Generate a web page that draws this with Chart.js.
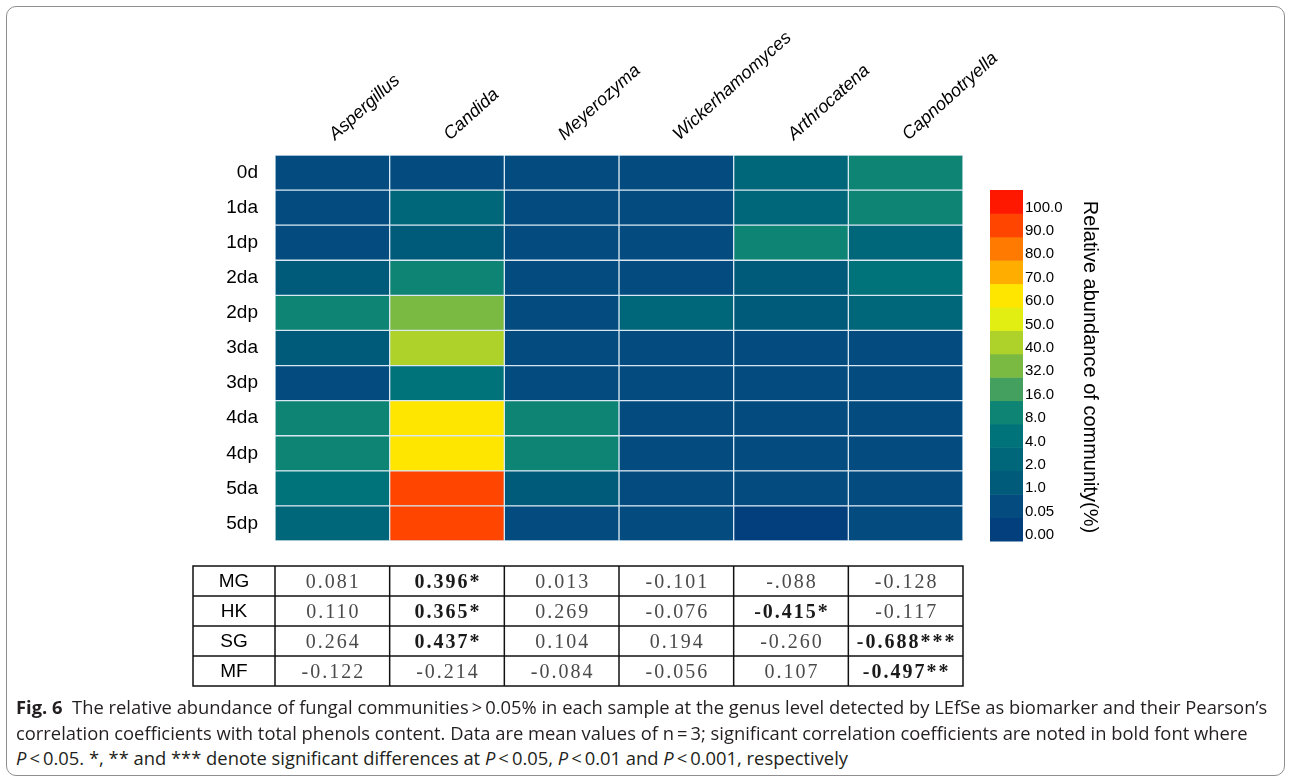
<!DOCTYPE html>
<html>
<head>
<meta charset="utf-8">
<script src="https://cdn.jsdelivr.net/npm/chart.js@4.4.1/dist/chart.umd.min.js"></script>
<style>
  html, body { margin: 0; padding: 0; background: #fff; }
  #frame { position: absolute; left: 6px; top: 6px; width: 1279px; height: 770px;
           border: 1.5px solid #8f8f8f; border-radius: 10px; box-sizing: border-box; }
  #wrap { position: absolute; left: 0; top: 0; width: 1290px; height: 700px; }
  .cap { position: absolute; left: 16px; font-family: "Open Sans", Lato, sans-serif; font-size: 16px;
         color: #231f20; white-space: nowrap; line-height: 20px; }
  .cap b { font-weight: 700; }
</style>
</head>
<body>
<div id="frame"></div>
<div id="wrap"><canvas id="c" width="1290" height="700"></canvas></div>
<div class="cap" id="cap1" style="top:697px"><b>Fig. 6</b>&nbsp; The relative abundance of fungal communities&#8201;&gt;&#8201;0.05% in each sample at the genus level detected by LEfSe as biomarker and their Pearson’s</div>
<div class="cap" style="top:723px">correlation coefficients with total phenols content. Data are mean values of n&#8201;=&#8201;3; significant correlation coefficients are noted in bold font where</div>
<div class="cap" style="top:748px"><i>P</i>&#8201;&lt;&#8201;0.05. *, ** and *** denote significant differences at <i>P</i>&#8201;&lt;&#8201;0.05, <i>P</i>&#8201;&lt;&#8201;0.01 and <i>P</i>&#8201;&lt;&#8201;0.001, respectively</div>

<script>
// Samples (rows) and genera (columns)
const samples = ['0d', '1da', '1dp', '2da', '2dp', '3da', '3dp', '4da', '4dp', '5da', '5dp'];
const genera = ['Aspergillus', 'Candida', 'Meyerozyma', 'Wickerhamomyces', 'Arthrocatena', 'Capnobotryella'];

// Relative abundance (%) of each genus, in sample order
const aspergillus     = [0.5, 0.5, 0.5, 1.5, 12, 1.5, 0.5, 12, 12, 6, 3];
const candida         = [0.5, 3, 1.5, 12, 36, 45, 6, 65, 65, 93, 93];
const meyerozyma      = [0.5, 0.5, 0.5, 0.5, 0.5, 0.5, 0.5, 12, 12, 1.5, 0.5];
const wickerhamomyces = [0.5, 0.5, 0.5, 0.5, 3, 0.5, 0.5, 0.5, 0.5, 0.5, 0.5];
const arthrocatena    = [3, 3, 12, 1.5, 1.5, 0.5, 0.5, 0.5, 0.5, 0.5, 0.03];
const capnobotryella  = [12, 12, 3, 6, 3, 0.5, 0.5, 0.5, 0.5, 0.5, 0.5];
const abundance = [aspergillus, candida, meyerozyma, wickerhamomyces, arthrocatena, capnobotryella];

// Colour scale: lower bound of each bin, its label and colour
const binBreaks = [0, 0.05, 1, 2, 4, 8, 16, 32, 40, 50, 60, 70, 80, 90, 100];
const binLabels = ['0.00', '0.05', '1.0', '2.0', '4.0', '8.0', '16.0', '32.0', '40.0', '50.0', '60.0', '70.0', '80.0', '90.0', '100.0'];
const binColors = ['#033F7D', '#044C7F', '#005A7A', '#00667A', '#00727A', '#0E8474', '#44A05E', '#7AB942',
                   '#AED22A', '#E2EE12', '#FFE600', '#FFAE00', '#FF7A00', '#FF4500', '#FF1800'];

// Pearson correlation with total phenols content (bold where marked significant)
const corrRows = ['MG', 'HK', 'SG', 'MF'];
const corrMG = ['0.081', '0.396*', '0.013', '-0.101', '-.088', '-0.128'];
const corrHK = ['0.110', '0.365*', '0.269', '-0.076', '-0.415*', '-0.117'];
const corrSG = ['0.264', '0.437*', '0.104', '0.194', '-0.260', '-0.688***'];
const corrMF = ['-0.122', '-0.214', '-0.084', '-0.056', '0.107', '-0.497**'];
const corrTable = [corrMG, corrHK, corrSG, corrMF];

function colorFor(v) {
  let idx = 0;
  for (let i = 0; i < binBreaks.length; i++) if (v >= binBreaks[i]) idx = i;
  return binColors[idx];
}

// Each cell is one unit-wide segment of a stacked horizontal bar, coloured by abundance
const datasets = genera.map((g, gi) => ({
  label: g,
  data: samples.map(() => 1),
  backgroundColor: abundance[gi].map(colorFor),
  borderColor: '#d8e7f1',
  borderWidth: 1,
  borderSkipped: false,
  barPercentage: 1,
  categoryPercentage: 1
}));

const colorBarPlugin = {
  id: 'colorBar',
  afterDraw(chart) {
    const ctx = chart.ctx;
    const area = chart.chartArea;
    const x0 = area.right + 27, w = 33;
    const top = 190, bottom = area.bottom;
    const n = binColors.length;
    const h = (bottom - top) / n;
    ctx.save();
    for (let i = 0; i < n; i++) {
      ctx.fillStyle = binColors[i];
      ctx.fillRect(x0, bottom - (i + 1) * h, w, h + 0.5);
    }
    ctx.fillStyle = '#000';
    ctx.font = '15px "Liberation Sans", Arial, sans-serif';
    ctx.textAlign = 'left';
    ctx.textBaseline = 'middle';
    for (let i = 0; i < n; i++) {
      ctx.fillText(binLabels[i], x0 + w + 2, bottom - i * h - 6);
    }
    ctx.translate(x0 + w + 67, 367);
    ctx.rotate(Math.PI / 2);
    ctx.textAlign = 'center';
    ctx.font = '20px "Liberation Sans", Arial, sans-serif';
    ctx.fillText('Relative abundance of community(%)', 0, 0);
    ctx.restore();
  }
};

const corrTablePlugin = {
  id: 'corrTable',
  afterDraw(chart) {
    const ctx = chart.ctx;
    const xs = chart.scales.x;
    const edges = [193];
    for (let i = 0; i <= genera.length; i++) edges.push(xs.getPixelForValue(i));
    const top = chart.chartArea.bottom + 25, rowH = 30;
    const bottom = top + rowH * corrRows.length;
    ctx.save();
    ctx.strokeStyle = '#111';
    ctx.lineWidth = 1.5;
    ctx.strokeRect(edges[0], top, edges[edges.length - 1] - edges[0], bottom - top);
    for (let r = 1; r < corrRows.length; r++) {
      ctx.beginPath(); ctx.moveTo(edges[0], top + r * rowH); ctx.lineTo(edges[edges.length - 1], top + r * rowH); ctx.stroke();
    }
    for (let c = 1; c < edges.length - 1; c++) {
      ctx.beginPath(); ctx.moveTo(edges[c], top); ctx.lineTo(edges[c], bottom); ctx.stroke();
    }
    ctx.textAlign = 'center';
    ctx.textBaseline = 'middle';
    corrRows.forEach((lab, r) => {
      const cy = top + r * rowH + rowH / 2 + 1;
      ctx.letterSpacing = '0px';
      ctx.fillStyle = '#000';
      ctx.font = '19px "Liberation Sans", Arial, sans-serif';
      ctx.fillText(lab, (edges[0] + edges[1]) / 2, cy);
      corrTable[r].forEach((val, c) => {
        const sig = val.includes('*');
        ctx.letterSpacing = '2px';
        ctx.fillStyle = sig ? '#1a1a1a' : '#4a4a4a';
        ctx.font = (sig ? 'bold ' : '') + '20px "Liberation Serif", "Times New Roman", serif';
        ctx.fillText(val, (edges[c + 1] + edges[c + 2]) / 2 + 1, cy + 1);
      });
    });
    ctx.restore();
  }
};

new Chart(document.getElementById('c'), {
  type: 'bar',
  data: { labels: samples, datasets },
  options: {
    indexAxis: 'y',
    responsive: false,
    animation: false,
    events: [],
    layout: { padding: { left: 0, top: 0, right: 327, bottom: 159 } },
    plugins: { legend: { display: false }, tooltip: { enabled: false } },
    scales: {
      x: {
        type: 'linear',
        position: 'top',
        stacked: true,
        min: 0,
        max: genera.length,
        grid: { display: false, drawTicks: false },
        border: { display: false },
        afterBuildTicks(axis) { axis.ticks = genera.map((g, i) => ({ value: i + 0.5 })); },
        afterFit(axis) { axis.height = 155; },
        ticks: {
          autoSkip: false,
          minRotation: 42,
          maxRotation: 42,
          padding: 10,
          labelOffset: 14,
          color: '#000',
          font: { family: '"Liberation Sans", Arial, sans-serif', size: 18, style: 'italic' },
          callback: (v, i) => genera[i]
        }
      },
      y: {
        stacked: true,
        grid: { display: false, drawTicks: false },
        border: { display: false },
        afterFit(axis) { axis.width = 275; },
        ticks: {
          padding: 17,
          color: '#000',
          font: { family: '"Liberation Sans", Arial, sans-serif', size: 19 }
        }
      }
    }
  },
  plugins: [colorBarPlugin, corrTablePlugin]
});

// Fit the caption's font size so the first line spans the figure width
(function fitCaption() {
  const first = document.getElementById('cap1');
  const target = 1252;
  const size = 16 * target / first.getBoundingClientRect().width;
  document.querySelectorAll('.cap').forEach(el => { el.style.fontSize = size.toFixed(2) + 'px'; });
})();
</script>
</body>
</html>
